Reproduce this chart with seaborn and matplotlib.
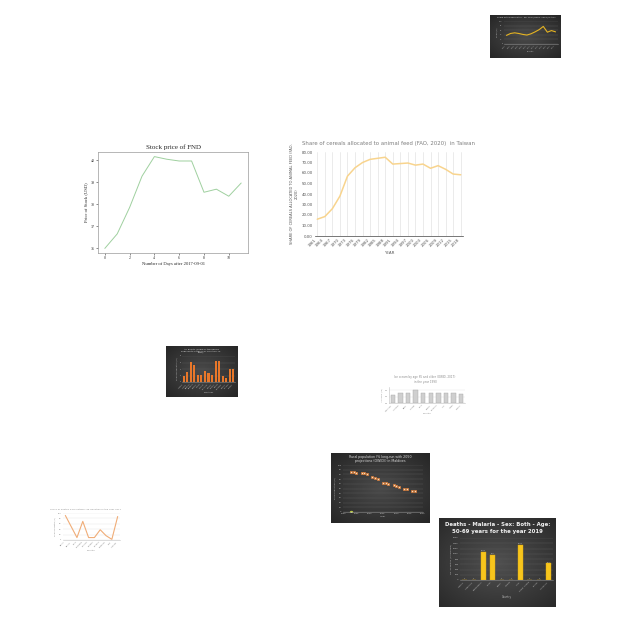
"""
Collage of eight small charts on a white 640x640 canvas.
Each chart gets its own axes placed by pixel box; dark panels get a
gradient backdrop drawn behind the plotting axes.
"""

import numpy as np
import matplotlib
matplotlib.use("Agg")
import matplotlib.pyplot as plt
import seaborn as sns

sns.set_theme(style="white")
plt.rcParams["font.family"] = ["DejaVu Sans"]

W, H = 640, 640

# --- data -------------------------------------------------------------------
# top-right dark line chart
tr_labels = ["1990", "1992", "1994", "1996", "1998", "2000", "2002",
             "2004", "2006", "2008", "2010", "2012", "2014"]
tr_values = [37.5, 45.8, 48.6, 45.8, 41.7, 38.9, 44.4, 52.8, 62.5, 76.4,
             51.4, 58.3, 52.8]

# stock price of FND
stock_days = [0, 1, 2, 3, 4, 5, 6, 7, 8, 9, 10, 11]
stock_price = [36.0, 36.66, 37.86, 39.28, 40.17, 40.05, 39.97, 39.97,
               38.55, 38.69, 38.37, 38.97]

# share of cereals to animal feed, Taiwan
tw_years = ["1961", "1964", "1967", "1970", "1973", "1976", "1979", "1982",
            "1985", "1988", "1991", "1994", "1997", "2000", "2003", "2006",
            "2009", "2012", "2015", "2018"]
tw_share = [16.0, 18.5, 26.0, 38.0, 57.0, 65.0, 70.0, 73.0, 74.0, 75.0,
            68.5, 69.0, 69.5, 67.5, 68.5, 64.5, 67.0, 63.5, 59.0, 58.3]

# orange bars, dark panel
ob_labels = ["Albania", "Austria", "Belgium", "Bulgaria", "Croatia",
             "Cyprus", "Czechia", "Denmark", "Estonia", "Finland",
             "France", "Germany", "Greece", "Hungary", "Ireland"]
ob_values = [1.8, 3.0, 6.1, 5.1, 2.3, 2.3, 3.5, 2.8, 2.1, 6.5, 6.5, 2.0,
             1.3, 4.1, 4.1]

# gray bars, white panel
gb_labels = ["Argentina", "Australia", "Brazil", "Canada", "Chile",
             "France", "Germany", "Italy", "Japan", "Mexico"]
gb_values = [0.25, 0.30, 0.30, 0.40, 0.30, 0.30, 0.30, 0.30, 0.30, 0.27]

# rural population, Maldives
rp_years = [1993, 1994, 1995, 1997, 1998, 1999, 2001, 2002, 2003, 2005,
            2006, 2007, 2009, 2010, 2011, 2013, 2014, 2016, 2017]
rp_values = [84.3, 84.3, 83.6, 83.6, 82.9, 80.0, 74.5, 71.4, 70.0, 62.5,
             61.0, 59.5, 57.0, 55.0, 52.9, 50.0, 47.9, 45.0, 44.3]
rp_extra_year = [1993]
rp_extra_value = [1.0]

# orange line, white panel
ol_labels = ["Belize", "Bolivia", "Chile", "Colombia", "Ecuador", "Guyana",
             "Panama", "Paraguay", "Peru", "Uruguay"]
ol_values = [91, 50, 9, 69, 9, 9, 38, 16, 2.5, 87]

# malaria deaths
ml_labels = ["Algeria", "Argentina", "Bangladesh", "Brazil", "Egypt",
             "Jordan", "India", "Saudi Arabia", "Turkey", "Indonesia"]
ml_values = [0, 0, 1070, 945, 0, 0, 1350, 0, 0, 630]


def px_box(x0, y0, x1, y1):
    return [x0 / W, 1 - y1 / H, (x1 - x0) / W, (y1 - y0) / H]


def fig_text(fig, x, y, s, **kw):
    fig.text(x / W, 1 - y / H, s, ha="center", va="center", **kw)


def dark_panel(fig, x0, y0, x1, y1, inner="#4a4a4a", outer="#262626"):
    bg = fig.add_axes(px_box(x0, y0, x1, y1), zorder=0)
    yy, xx = np.mgrid[-1:1:60j, -1:1:80j]
    r = np.clip(np.sqrt(xx ** 2 + yy ** 2) / 1.4, 0, 1)
    c0 = np.array(matplotlib.colors.to_rgb(inner))
    c1 = np.array(matplotlib.colors.to_rgb(outer))
    img = c0[None, None, :] * (1 - r[..., None]) + c1[None, None, :] * r[..., None]
    bg.imshow(img, aspect="auto", extent=[0, 1, 0, 1])
    bg.set_axis_off()


def style_dark(ax, fs=2.2):
    ax.set_facecolor("none")
    for s in ["top", "right", "left"]:
        ax.spines[s].set_visible(False)
    ax.spines["bottom"].set_color("#8c8c8c")
    ax.spines["bottom"].set_linewidth(0.4)
    ax.tick_params(colors="#bfbfbf", labelsize=fs, length=0, pad=1)
    ax.yaxis.grid(True, color="#5a5a5a", linewidth=0.3)
    ax.set_axisbelow(True)


def style_light(ax, fs=2.2):
    ax.set_facecolor("none")
    for s in ["top", "right", "left"]:
        ax.spines[s].set_visible(False)
    ax.spines["bottom"].set_color("#bfbfbf")
    ax.spines["bottom"].set_linewidth(0.4)
    ax.tick_params(colors="#7f7f7f", labelsize=fs, length=0, pad=1)
    ax.yaxis.grid(True, color="#e6e6e6", linewidth=0.3)
    ax.set_axisbelow(True)


fig = plt.figure(figsize=(6.4, 6.4), dpi=100)
fig.patch.set_facecolor("white")

# 1. top-right dark line chart
dark_panel(fig, 490, 15, 561, 58)
ax = fig.add_axes(px_box(504, 21, 558, 44), zorder=1)
sns.lineplot(x=np.arange(len(tr_values)), y=tr_values, color="#e6b422",
             linewidth=0.8, ax=ax)
style_dark(ax, fs=1.3)
ax.set_ylim(0, 100)
ax.set_xticks(np.arange(len(tr_labels)))
ax.set_xticklabels(tr_labels, rotation=45, ha="right")
ax.set_xlabel("Country", fontsize=1.4, color="#bfbfbf", labelpad=1)
ax.set_ylabel("Share (%)", fontsize=1.4, color="#bfbfbf", labelpad=1)
fig_text(fig, 526, 17.5, "Share of the population - per year (OWID, 2019) in Italy",
         fontsize=1.5, color="#d9d9d9")

# 2. stock price of FND
ax = fig.add_axes(px_box(98, 152, 248, 253), zorder=1)
sns.lineplot(x=stock_days, y=stock_price, color="#9fd09f", linewidth=0.7, ax=ax)
ax.set_facecolor("white")
for s in ax.spines.values():
    s.set_color("#9a9a9a")
    s.set_linewidth(0.5)
ax.set_xticks([0, 2, 4, 6, 8, 10])
ax.set_yticks([36, 37, 38, 39, 40])
ax.tick_params(labelsize=3, length=1.5, width=0.4, pad=1, colors="#333333",
               bottom=True, left=True)
for lab in ax.get_xticklabels() + ax.get_yticklabels():
    lab.set_family("Liberation Serif")
ax.set_xlabel("Number of Days after 2017-09-01", fontsize=3.3,
              family="Liberation Serif", labelpad=1)
ax.set_ylabel("Price of Stock (USD)", fontsize=3.3,
              family="Liberation Serif", labelpad=2)
ax.set_title("Stock price of FND", fontsize=5, family="Liberation Serif", pad=2)

# 3. share of cereals allocated to animal feed, Taiwan
ax = fig.add_axes(px_box(315, 152, 463, 236), zorder=1)
xs = np.arange(len(tw_share))
sns.lineplot(x=xs, y=tw_share, color="#f8d48e", linewidth=1.1, ax=ax)
ax.set_facecolor("white")
for s in ["top", "right", "left"]:
    ax.spines[s].set_visible(False)
ax.spines["bottom"].set_color("#404040")
ax.spines["bottom"].set_linewidth(0.5)
ax.set_ylim(0, 80)
ax.set_xlim(-0.3, len(tw_share) - 0.7)
ax.set_yticks(range(0, 81, 10))
ax.set_yticklabels([f"{v:.2f}" for v in range(0, 81, 10)])
ax.set_xticks(xs)
ax.set_xticklabels(tw_years, rotation=45, ha="right")
ax.xaxis.grid(True, color="#e3e3e3", linewidth=0.5)
ax.set_axisbelow(True)
ax.tick_params(labelsize=2.9, length=0, pad=1.5, colors="#555555")
ax.set_xlabel("YEAR", fontsize=2.9, color="#555555", labelpad=2)
ax.set_ylabel("SHARE OF CEREALS ALLOCATED TO ANIMAL FEED (FAO,\n2020)",
              fontsize=2.6, color="#555555", labelpad=2)
ax.set_title("Share of cereals allocated to animal feed (FAO, 2020)  in Taiwan",
             fontsize=3.9, color="#7f7f7f", pad=5)

# 4. orange bars on dark panel
dark_panel(fig, 166, 346, 237, 397)
ax = fig.add_axes(px_box(182, 356, 235, 382), zorder=1)
sns.barplot(x=ob_labels, y=ob_values, color="#e8772a", saturation=1,
            width=0.6, linewidth=0, ax=ax)
style_dark(ax, fs=1.3)
ax.set_ylim(0, 8)
ax.tick_params(axis="x", rotation=45)
for lab in ax.get_xticklabels():
    lab.set_ha("right")
ax.set_xlabel("Countries", fontsize=1.5, color="#bfbfbf", labelpad=1)
ax.set_ylabel("Share of population (%)", fontsize=1.4, color="#bfbfbf", labelpad=1)
fig_text(fig, 201, 351,
         "Air quality (Share of the people\nexposed to outdoor air pollution, in\n2016)",
         fontsize=1.6, color="#e0e0e0", linespacing=1.0)

# 5. gray bars on white
ax = fig.add_axes(px_box(389, 387, 465, 403), zorder=1)
sns.barplot(x=gb_labels, y=gb_values, color="#cfcfcf", saturation=1,
            width=0.6, edgecolor="#a6a6a6", linewidth=0.3, ax=ax)
style_light(ax, fs=1.4)
ax.spines["left"].set_visible(True)
ax.spines["left"].set_color("#bfbfbf")
ax.spines["left"].set_linewidth(0.4)
ax.set_ylim(0, 0.5)
ax.tick_params(axis="x", rotation=45)
for lab in ax.get_xticklabels():
    lab.set_ha("right")
ax.set_xlabel("Country", fontsize=1.6, color="#8c8c8c", labelpad=1)
ax.set_ylabel("Ice cream (kg)", fontsize=1.4, color="#8c8c8c", labelpad=1)
fig_text(fig, 425, 379.5, "Ice cream by age 65 and older (OWID, 2017)\nin the year 1990",
         fontsize=2.0, color="#8c8c8c", linespacing=1.3)

# 6. rural population with dots, dark panel
dark_panel(fig, 331, 453, 429, 523)
ax = fig.add_axes(px_box(343, 465, 423, 512), zorder=1)
sns.scatterplot(x=rp_years, y=rp_values, marker="s", s=1.8, color="#f3dcc0",
                edgecolor="#d9772f", linewidth=0.5, ax=ax)
sns.scatterplot(x=rp_extra_year, y=rp_extra_value, marker="o", s=3,
                color="#f6f3d0", edgecolor="#b8cc3a", linewidth=0.7, ax=ax)
style_dark(ax, fs=1.5)
ax.set_xlim(1990, 2020)
ax.set_ylim(0, 100)
ax.set_yticks(range(0, 101, 10))
ax.set_xticks(range(1990, 2021, 5))
ax.set_xlabel("Year", fontsize=1.7, color="#bfbfbf", labelpad=1)
ax.set_ylabel("Rural population (%)", fontsize=1.5, color="#bfbfbf", labelpad=1)
fig_text(fig, 380, 459,
         "Rural population (% long-run with 2050\nprojections (OWID)) in Maldives",
         fontsize=2.3, color="#d9d9d9", linespacing=1.2)

# 7. orange line on white
ax = fig.add_axes(px_box(63, 513, 120, 540), zorder=1)
sns.lineplot(x=np.arange(len(ol_values)), y=ol_values, color="#f0ad78",
             linewidth=0.8, ax=ax)
style_light(ax, fs=1.4)
ax.set_ylim(0, 100)
ax.set_xlim(-0.4, len(ol_values) - 0.6)
ax.set_xticks(np.arange(len(ol_labels)))
ax.set_xticklabels(ol_labels, rotation=45, ha="right")
ax.set_xlabel("Country", fontsize=1.6, color="#8c8c8c", labelpad=1)
ax.set_ylabel("Share of deaths (%)", fontsize=1.4, color="#8c8c8c", labelpad=1)
fig_text(fig, 86, 509.5, "Share of deaths from outdoor air pollution in the year 2017",
         fontsize=1.7, color="#8c8c8c")

# 8. malaria deaths, dark panel
dark_panel(fig, 439, 518, 556, 607, inner="#505050", outer="#2a2a2a")
ax = fig.add_axes(px_box(460, 538, 553, 580), zorder=1)
sns.barplot(x=ml_labels, y=ml_values, color="#f7c51c", saturation=1,
            width=0.5, edgecolor="#e0a90f", linewidth=0.3, ax=ax)
style_dark(ax, fs=1.6)
ax.set_ylim(0, 1600)
ax.set_yticks(range(0, 1601, 200))
ax.bar_label(ax.containers[0], fontsize=1.4, color="#bfbfbf", padding=0.5)
ax.tick_params(axis="x", rotation=45)
for lab in ax.get_xticklabels():
    lab.set_ha("right")
ax.set_xlabel("Country", fontsize=1.8, color="#bfbfbf", labelpad=2)
ax.set_ylabel("No. of deaths (in numbers)", fontsize=1.6, color="#bfbfbf",
              labelpad=1)
fig_text(fig, 497.5, 528, "Deaths - Malaria - Sex: Both - Age:\n50-69 years for the year 2019",
         fontsize=3.9, color="#f2f2f2", fontweight="bold", linespacing=1.3)

fig.savefig("out.png", dpi=100)
